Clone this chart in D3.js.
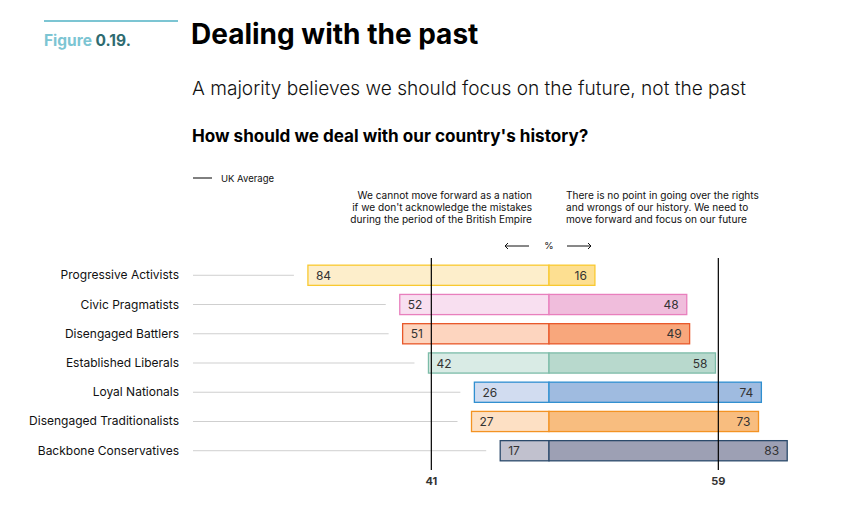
<!DOCTYPE html>
<html><head><meta charset="utf-8">
<script src="https://cdn.jsdelivr.net/npm/d3@7"></script>
<style>
body{margin:0;background:#fff;}
svg{font-family:Inter, "Noto Sans", sans-serif;}
</style></head>
<body><svg id="c" width="854" height="505"></svg>
<script>
const categories = ["Progressive Activists","Civic Pragmatists","Disengaged Battlers","Established Liberals","Loyal Nationals","Disengaged Traditionalists","Backbone Conservatives"];
const acknowledge = [84,52,51,42,26,27,17];
const moveOn = [16,48,49,58,74,73,83];
const ukAverage = [41,59];
const leftFill = ["#fdeecb","#f8dff0","#fdd5bf","#d9ebe5","#d1dcf0","#fde0c4","#c1c1ce"];
const rightFill = ["#fddf91","#f0bddc","#f8a77c","#b8d9cd","#9fbbe0","#f8bd7f","#9da0b4"];
const strokeCol = ["#f9c930","#e87fbd","#e8582a","#7cbca8","#2f8fd0","#f39323","#2b4a6b"];

const svg = d3.select("#c");
const cx = 549, k = 2.87;
const xL = d3.scaleLinear().domain([0,100]).range([cx, cx-100*k]);
const xR = d3.scaleLinear().domain([0,100]).range([cx, cx+100*k]);
const y = d3.scaleBand().domain(categories).range([260.5,465.5]).paddingInner(0.31).paddingOuter(0.16);

// Header
svg.append("line").attr("x1",44).attr("x2",178).attr("y1",21).attr("y2",21).attr("stroke","#7cc5d3").attr("stroke-width",2);
const fig = svg.append("text").attr("x",44).attr("y",46).attr("font-size",15.5).attr("font-weight",700);
fig.append("tspan").attr("fill","#7cc5d3").text("Figure ");
fig.append("tspan").attr("fill","#2e6b70").text("0.19.");
svg.append("text").attr("x",191).attr("y",44).attr("font-size",28).attr("font-weight",700).attr("fill","#000").text("Dealing with the past");
svg.append("text").attr("x",192).attr("y",95).attr("font-size",19.1).attr("font-weight",300).attr("fill","#111").text("A majority believes we should focus on the future, not the past");
svg.append("text").attr("x",192).attr("y",142).attr("font-size",17.1).attr("font-weight",700).attr("fill","#000").text("How should we deal with our country's history?");

// Legend
svg.append("line").attr("x1",193).attr("x2",212).attr("y1",178).attr("y2",178).attr("stroke","#000").attr("stroke-width",1);
svg.append("text").attr("x",221).attr("y",181.5).attr("font-size",9.5).attr("fill","#111").text("UK Average");

// Column headers
const lh = ["We cannot move forward as a nation","if we don't acknowledge the mistakes","during the period of the British Empire"];
const rh = ["There is no point in going over the rights","and wrongs of our history. We need to","move forward and focus on our future"];
lh.forEach((t,i)=>svg.append("text").attr("x",532).attr("y",199+i*12).attr("text-anchor","end").attr("font-size",10.1).attr("fill","#111").text(t));
rh.forEach((t,i)=>svg.append("text").attr("x",566).attr("y",199+i*12).attr("font-size",10.1).attr("fill","#111").text(t));
svg.append("text").attr("x",cx).attr("y",249).attr("text-anchor","middle").attr("font-size",9.5).attr("fill","#111").text("%");
// arrows
const arr = svg.append("g").attr("stroke","#111").attr("stroke-width",1).attr("fill","none");
arr.append("line").attr("x1",505).attr("x2",529).attr("y1",246).attr("y2",246);
arr.append("path").attr("d","M508,243 L505,246 L508,249");
arr.append("line").attr("x1",567).attr("x2",591).attr("y1",246).attr("y2",246);
arr.append("path").attr("d","M588,243 L591,246 L588,249");

// Rows
const rows = svg.append("g");
categories.forEach((c,i)=>{
  const y0 = y(c), h = y.bandwidth(), ym = y0 + h/2;
  rows.append("text").attr("x",179).attr("y",ym+4).attr("text-anchor","end").attr("font-size",12).attr("fill","#111").text(c);
  rows.append("line").attr("x1",193).attr("x2",xL(acknowledge[i])-14).attr("y1",ym).attr("y2",ym).attr("stroke","#cfcfcf").attr("stroke-width",1);
  rows.append("rect").attr("x",xL(acknowledge[i])).attr("y",y0).attr("width",xL(0)-xL(acknowledge[i])).attr("height",h)
    .attr("fill",leftFill[i]).attr("stroke",strokeCol[i]).attr("stroke-width",1.3);
  rows.append("rect").attr("x",xR(0)).attr("y",y0).attr("width",xR(moveOn[i])-xR(0)).attr("height",h)
    .attr("fill",rightFill[i]).attr("stroke",strokeCol[i]).attr("stroke-width",1.3);
  rows.append("text").attr("x",xL(acknowledge[i])+8).attr("y",ym+4.5).attr("font-size",12).attr("fill","#333").text(acknowledge[i]);
  rows.append("text").attr("x",xR(moveOn[i])-8).attr("y",ym+4.5).attr("text-anchor","end").attr("font-size",12).attr("fill","#333").text(moveOn[i]);
});

// UK average lines
svg.append("line").attr("x1",xL(ukAverage[0])).attr("x2",xL(ukAverage[0])).attr("y1",258).attr("y2",470).attr("stroke","#000").attr("stroke-width",1.2);
svg.append("line").attr("x1",xR(ukAverage[1])).attr("x2",xR(ukAverage[1])).attr("y1",258).attr("y2",470).attr("stroke","#000").attr("stroke-width",1.2);
svg.append("text").attr("x",xL(ukAverage[0])).attr("y",485).attr("text-anchor","middle").attr("font-size",11).attr("font-weight",700).attr("fill","#333").text(ukAverage[0]);
svg.append("text").attr("x",xR(ukAverage[1])).attr("y",485).attr("text-anchor","middle").attr("font-size",11).attr("font-weight",700).attr("fill","#333").text(ukAverage[1]);
</script></body></html>
